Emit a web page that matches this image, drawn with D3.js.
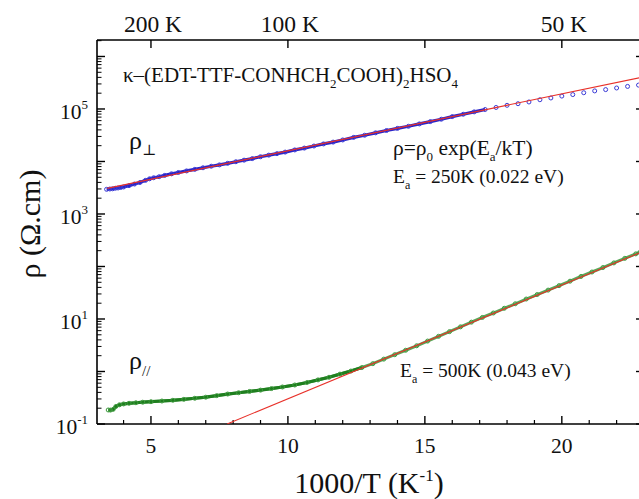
<!doctype html>
<html>
<head>
<meta charset="utf-8">
<title>Resistivity vs 1000/T</title>
<script src="https://d3js.org/d3.v7.min.js"></script>
<style>
  body { margin: 0; background: #fff; }
  svg text { fill: #111; }
  .axis path, .axis line { stroke: #000; }
</style>
</head>
<body>
<div id="chart"></div>
<script>
// rho perpendicular (blue circles)
var perpX = [3.38,3.5,3.6,3.7,3.8,3.9,4.0,4.2,4.4,4.6,4.8,4.95,5.1,5.3,5.5,5.75,6.0,6.3,6.6,6.9,7.2,7.5,7.8,8.1,8.4,8.7,9.0,9.3,9.6,9.9,10.25,10.6,10.95,11.3,11.65,12.0,12.4,12.8,13.2,13.6,14.0,14.4,14.8,15.2,15.6,16.0,16.4,16.8,17.2,17.6,18.0,18.4,18.8,19.2,19.6,20.0,20.4,20.8,21.2,21.6,22.0,22.4,22.8];
var perpRho = [2.95e3,2.99e3,3.02e3,3.09e3,3.13e3,3.20e3,3.27e3,3.47e3,3.72e3,3.98e3,4.37e3,4.68e3,4.90e3,5.13e3,5.43e3,5.82e3,6.17e3,6.61e3,7.08e3,7.59e3,8.13e3,8.61e3,9.23e3,9.89e3,1.06e4,1.135e4,1.23e4,1.32e4,1.41e4,1.51e4,1.66e4,1.80e4,1.97e4,2.16e4,2.34e4,2.57e4,2.88e4,3.16e4,3.51e4,3.89e4,4.27e4,4.68e4,5.19e4,5.75e4,6.38e4,7.16e4,7.94e4,8.81e4,9.77e4,1.07e5,1.175e5,1.26e5,1.36e5,1.50e5,1.62e5,1.76e5,1.88e5,2.04e5,2.21e5,2.34e5,2.51e5,2.69e5,2.85e5];

// rho parallel (green circles)
var parX = [3.44,3.52,3.62,3.72,3.85,4.0,4.2,4.45,4.7,5.0,5.4,5.8,6.2,6.6,7.0,7.4,7.8,8.2,8.6,9.0,9.4,9.8,10.25,10.7,11.1,11.5,11.9,12.3,12.7,13.1,13.5,13.9,14.3,14.7,15.1,15.5,15.9,16.3,16.7,17.1,17.5,17.9,18.3,18.7,19.1,19.5,19.9,20.3,20.7,21.1,21.5,21.9,22.3,22.7,22.85];
var parRho = [0.185,0.184,0.19,0.216,0.232,0.241,0.248,0.254,0.260,0.266,0.274,0.283,0.295,0.309,0.324,0.347,0.372,0.394,0.417,0.442,0.473,0.507,0.553,0.617,0.692,0.776,0.891,1.02,1.19,1.41,1.72,2.09,2.54,3.09,3.80,4.68,5.75,7.08,8.71,10.7,13.0,16.0,19.5,24.0,29.2,35.5,43.2,52.5,64.6,78.5,95.5,117,143,174,186];

// activated fits (straight on log axis): endpoints
var fitPerpX = [3.4, 23.0];
var fitPerpRho = [3.08e3, 4.1e5];
var fitParX = [7.78, 23.0];
var fitParRho = [0.1, 197];

var xTicksMajor = [5, 10, 15, 20];
var topTickX = [5, 10, 15, 20];
var topTickLabels = ["200 K", "100 K", "", "50 K"];
var yLabelExp = ["-1", "1", "3", "5"];

var W = 639, H = 499;
var plot = {left: 97, top: 40, right: 644, bottom: 424};

var svg = d3.select("#chart").append("svg")
    .attr("width", W).attr("height", H)
    .attr("font-family", "'Liberation Serif', 'Times New Roman', 'DejaVu Serif', serif");

var x = d3.scaleLinear().domain([3.03, 23.0]).range([plot.left, plot.right]);
var y = d3.scaleLog().domain([0.1, 2.06e6]).range([plot.bottom, plot.top]);

svg.append("clipPath").attr("id", "clip")
  .append("rect")
    .attr("x", plot.left).attr("y", plot.top)
    .attr("width", plot.right - plot.left).attr("height", plot.bottom - plot.top);

// minor / major tick lists
var xMinor = d3.range(4, 24).filter(function(v) { return v % 5 !== 0; });
var yMajor = [], yMinor = [];
for (var e = -1; e <= 6; e++) {
  yMajor.push(Math.pow(10, e));
  for (var m = 2; m <= 9; m++) {
    var v = m * Math.pow(10, e);
    if (v < 2.06e6) yMinor.push(v);
  }
}

// frame
var g = svg.append("g").attr("class", "axis");
g.append("line").attr("x1", plot.left).attr("x2", plot.right).attr("y1", plot.bottom).attr("y2", plot.bottom).attr("stroke-width", 1.6);
g.append("line").attr("x1", plot.left).attr("x2", plot.right).attr("y1", plot.top).attr("y2", plot.top).attr("stroke-width", 1.6);
g.append("line").attr("x1", plot.left).attr("x2", plot.left).attr("y1", plot.top).attr("y2", plot.bottom).attr("stroke-width", 1.6);
g.append("line").attr("x1", plot.right).attr("x2", plot.right).attr("y1", plot.top).attr("y2", plot.bottom).attr("stroke-width", 1.6);

// bottom ticks (inward)
g.selectAll(".xmaj").data(xTicksMajor).enter().append("line")
  .attr("x1", d => x(d)).attr("x2", d => x(d))
  .attr("y1", plot.bottom).attr("y2", plot.bottom - 8).attr("stroke-width", 1.4);
g.selectAll(".xmin").data(xMinor).enter().append("line")
  .attr("x1", d => x(d)).attr("x2", d => x(d))
  .attr("y1", plot.bottom).attr("y2", plot.bottom - 4).attr("stroke-width", 1.2);

// top ticks (temperature)
g.selectAll(".tmaj").data(topTickX).enter().append("line")
  .attr("x1", d => x(d)).attr("x2", d => x(d))
  .attr("y1", plot.top).attr("y2", plot.top + 8).attr("stroke-width", 1.4);

// left + right ticks
[plot.left, plot.right].forEach(function(x0, i) {
  var dir = i === 0 ? 1 : -1;
  g.selectAll(".ymaj" + i).data(yMajor.filter(d => d <= 2.06e6)).enter().append("line")
    .attr("x1", x0).attr("x2", x0 + dir * 8)
    .attr("y1", d => y(d)).attr("y2", d => y(d)).attr("stroke-width", 1.4);
  g.selectAll(".ymin" + i).data(yMinor).enter().append("line")
    .attr("x1", x0).attr("x2", x0 + dir * 4.5)
    .attr("y1", d => y(d)).attr("y2", d => y(d)).attr("stroke-width", 1);
});

// tick labels
svg.selectAll(".xl").data(xTicksMajor).enter().append("text")
  .attr("x", d => x(d)).attr("y", 453)
  .attr("text-anchor", "middle").attr("font-size", 21.5)
  .text(d => d);

svg.selectAll(".tl").data(topTickX).enter().append("text")
  .attr("x", d => x(d) + 2).attr("y", 32)
  .attr("text-anchor", "middle").attr("font-size", 23.5)
  .text((d, i) => topTickLabels[i]);

yLabelExp.forEach(function(ex) {
  var t = svg.append("text")
    .attr("x", 88).attr("y", y(Math.pow(10, +ex)) + 10)
    .attr("text-anchor", "end").attr("font-size", 21.5);
  t.append("tspan").text("10");
  t.append("tspan").attr("dy", -10).attr("font-size", 13).text(ex);
});

// axis titles
var xt = svg.append("text").attr("x", 369).attr("y", 493)
  .attr("text-anchor", "middle").attr("font-size", 30);
xt.append("tspan").text("1000/T (K");
xt.append("tspan").attr("dy", -12).attr("font-size", 17).text("-1");
xt.append("tspan").attr("dy", 12).text(")");

svg.append("text")
  .attr("transform", "translate(40,224) rotate(-90)")
  .attr("text-anchor", "middle").attr("font-size", 30)
  .text("\u03C1 (\u03A9.cm)");

// data
var perp = perpX.map((v, i) => ({x: v, r: perpRho[i]}));
var par = parX.map((v, i) => ({x: v, r: parRho[i]}));
var line = d3.line().x(d => x(d.x)).y(d => y(d.r));

var data = svg.append("g").attr("clip-path", "url(#clip)");

data.append("path").datum(perp.filter(d => d.x < 17.5))
  .attr("d", line).attr("fill", "none")
  .attr("stroke", "#2a24c8").attr("stroke-width", 3.2);
data.selectAll(".pc").data(perp).enter().append("circle")
  .attr("cx", d => x(d.x)).attr("cy", d => y(d.r)).attr("r", 2)
  .attr("fill", "none").attr("stroke", "#3b3bd6").attr("stroke-width", 1);

data.append("path").datum(par)
  .attr("d", line).attr("fill", "none")
  .attr("stroke", "#5aa85a").attr("stroke-width", 3);
data.append("path").datum(par.filter(d => d.x < 13))
  .attr("d", line).attr("fill", "none")
  .attr("stroke", "#1f7f1f").attr("stroke-width", 3.2);
data.selectAll(".gc").data(par).enter().append("circle")
  .attr("cx", d => x(d.x)).attr("cy", d => y(d.r)).attr("r", 2)
  .attr("fill", "none").attr("stroke", "#3f9a3f").attr("stroke-width", 1);

// fit lines
var fitA = fitPerpX.map((v, i) => ({x: v, r: fitPerpRho[i]}));
var fitB = fitParX.map((v, i) => ({x: v, r: fitParRho[i]}));
[fitA, fitB].forEach(function(f) {
  data.append("path").datum(f).attr("d", line)
    .attr("fill", "none").attr("stroke", "#e8312a").attr("stroke-width", 1.1);
});

// annotations
var ttl = svg.append("text").attr("x", 123).attr("y", 82).attr("font-size", 21);
ttl.append("tspan").text("\u03BA\u2013(EDT-TTF-CONHCH");
ttl.append("tspan").attr("dy", 6).attr("font-size", 13).text("2");
ttl.append("tspan").attr("dy", -6).text("COOH)");
ttl.append("tspan").attr("dy", 6).attr("font-size", 13).text("2");
ttl.append("tspan").attr("dy", -6).text("HSO");
ttl.append("tspan").attr("dy", 6).attr("font-size", 13).text("4");

var r1 = svg.append("text").attr("x", 129).attr("y", 149).attr("font-size", 26);
r1.append("tspan").text("\u03C1");
r1.append("tspan").attr("dy", 6).attr("font-size", 15).text("\u22A5");

var r2 = svg.append("text").attr("x", 129).attr("y", 369).attr("font-size", 26);
r2.append("tspan").text("\u03C1");
r2.append("tspan").attr("dy", 7).attr("font-size", 15).text("//");

var f1 = svg.append("text").attr("x", 393).attr("y", 155).attr("font-size", 21.5);
f1.append("tspan").text("\u03C1=\u03C1");
f1.append("tspan").attr("dy", 6).attr("font-size", 13).text("0");
f1.append("tspan").attr("dy", -6).text(" exp(E");
f1.append("tspan").attr("dy", 6).attr("font-size", 13).text("a");
f1.append("tspan").attr("dy", -6).text("/kT)");

function eaLabel(x0, y0, txt) {
  var t = svg.append("text").attr("x", x0).attr("y", y0).attr("font-size", 19.5);
  t.append("tspan").text("E");
  t.append("tspan").attr("dy", 6).attr("font-size", 12).text("a");
  t.append("tspan").attr("dy", -6).text(" = " + txt);
}
eaLabel(393, 183, "250K (0.022 eV)");
eaLabel(400, 377, "500K (0.043 eV)");
</script>
</body>
</html>
